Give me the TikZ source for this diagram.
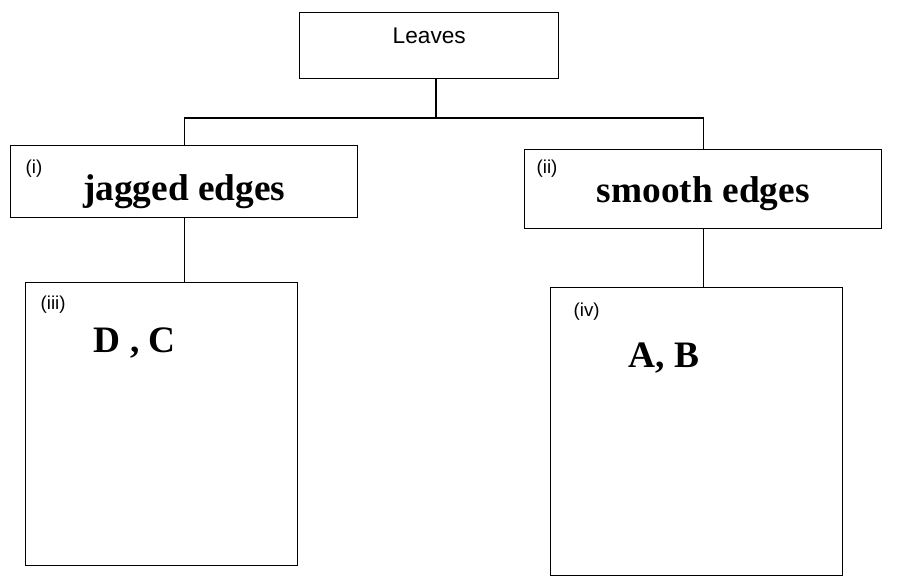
\documentclass[tikz,border=0pt]{standalone}
\usepackage{fontspec}
\setmainfont{Liberation Serif}
\setsansfont{Liberation Sans}
\usepackage{tikz}
\tikzset{
  main box/.style={draw,rectangle,inner sep=0pt,anchor=north west},
  title box/.style={main box,font=\sffamily\fontsize{17}{20}\selectfont},
  key box/.style={main box,font=\bfseries\fontsize{28}{32}\selectfont},
	tag/.style={anchor=base west,inner sep=0pt,font=\sffamily\fontsize{14}{16}\selectfont},
	big/.style={anchor=base west,inner sep=0pt,font=\bfseries\fontsize{28}{32}\selectfont}
}

\begin{document}
\begin{tikzpicture}[x=0.75pt,y=-0.75pt,line width=1.1pt]
        \useasboundingbox (0,0) rectangle (898,584);
        \node [title box,minimum width=194.25pt,text height=23.25pt,text depth=26.25pt] (1) at (299,12) {Leaves};
        \node [key box,minimum width=260.25pt,text height=41.25pt,text depth=12.75pt] (2) at (10,145) {jagged edges};
        \node [key box,minimum width=267.75pt,text height=39.75pt,text depth=19.5pt] (3) at (524,149) {smooth edges};
        \node [main box,minimum width=204pt,minimum height=212.25pt] (4) at (25,282) {};
        \node [main box,minimum width=219pt,minimum height=216pt] (5) at (550,287) {};
        % small labels
        \node [tag] (2a) at ([shift={(15,29)}]2.north west) {(i)};
        \node [tag] (3a) at ([shift={(12,25)}]3.north west) {(ii)};
        \node [tag] (4a) at ([shift={(15,27)}]4.north west) {(iii)};
        \node [tag] (5a) at ([shift={(23,29)}]5.north west) {(iv)};
        \node [big] (4b) at ([shift={(68,70)}]4.north west) {D , C};
        \node [big] (5b) at ([shift={(78,80)}]5.north west) {A, B};
        % connectors
        \coordinate (fork) at (436,118);
        \draw (1.south -| fork) -- (fork);
        \draw (fork) -| (2.north);
        \draw (fork) -| (3.north);
        \draw (2.south) -- (2.south |- 4.north);
        \draw (3.south) -- (3.south |- 5.north);
      \end{tikzpicture}
\end{document}
